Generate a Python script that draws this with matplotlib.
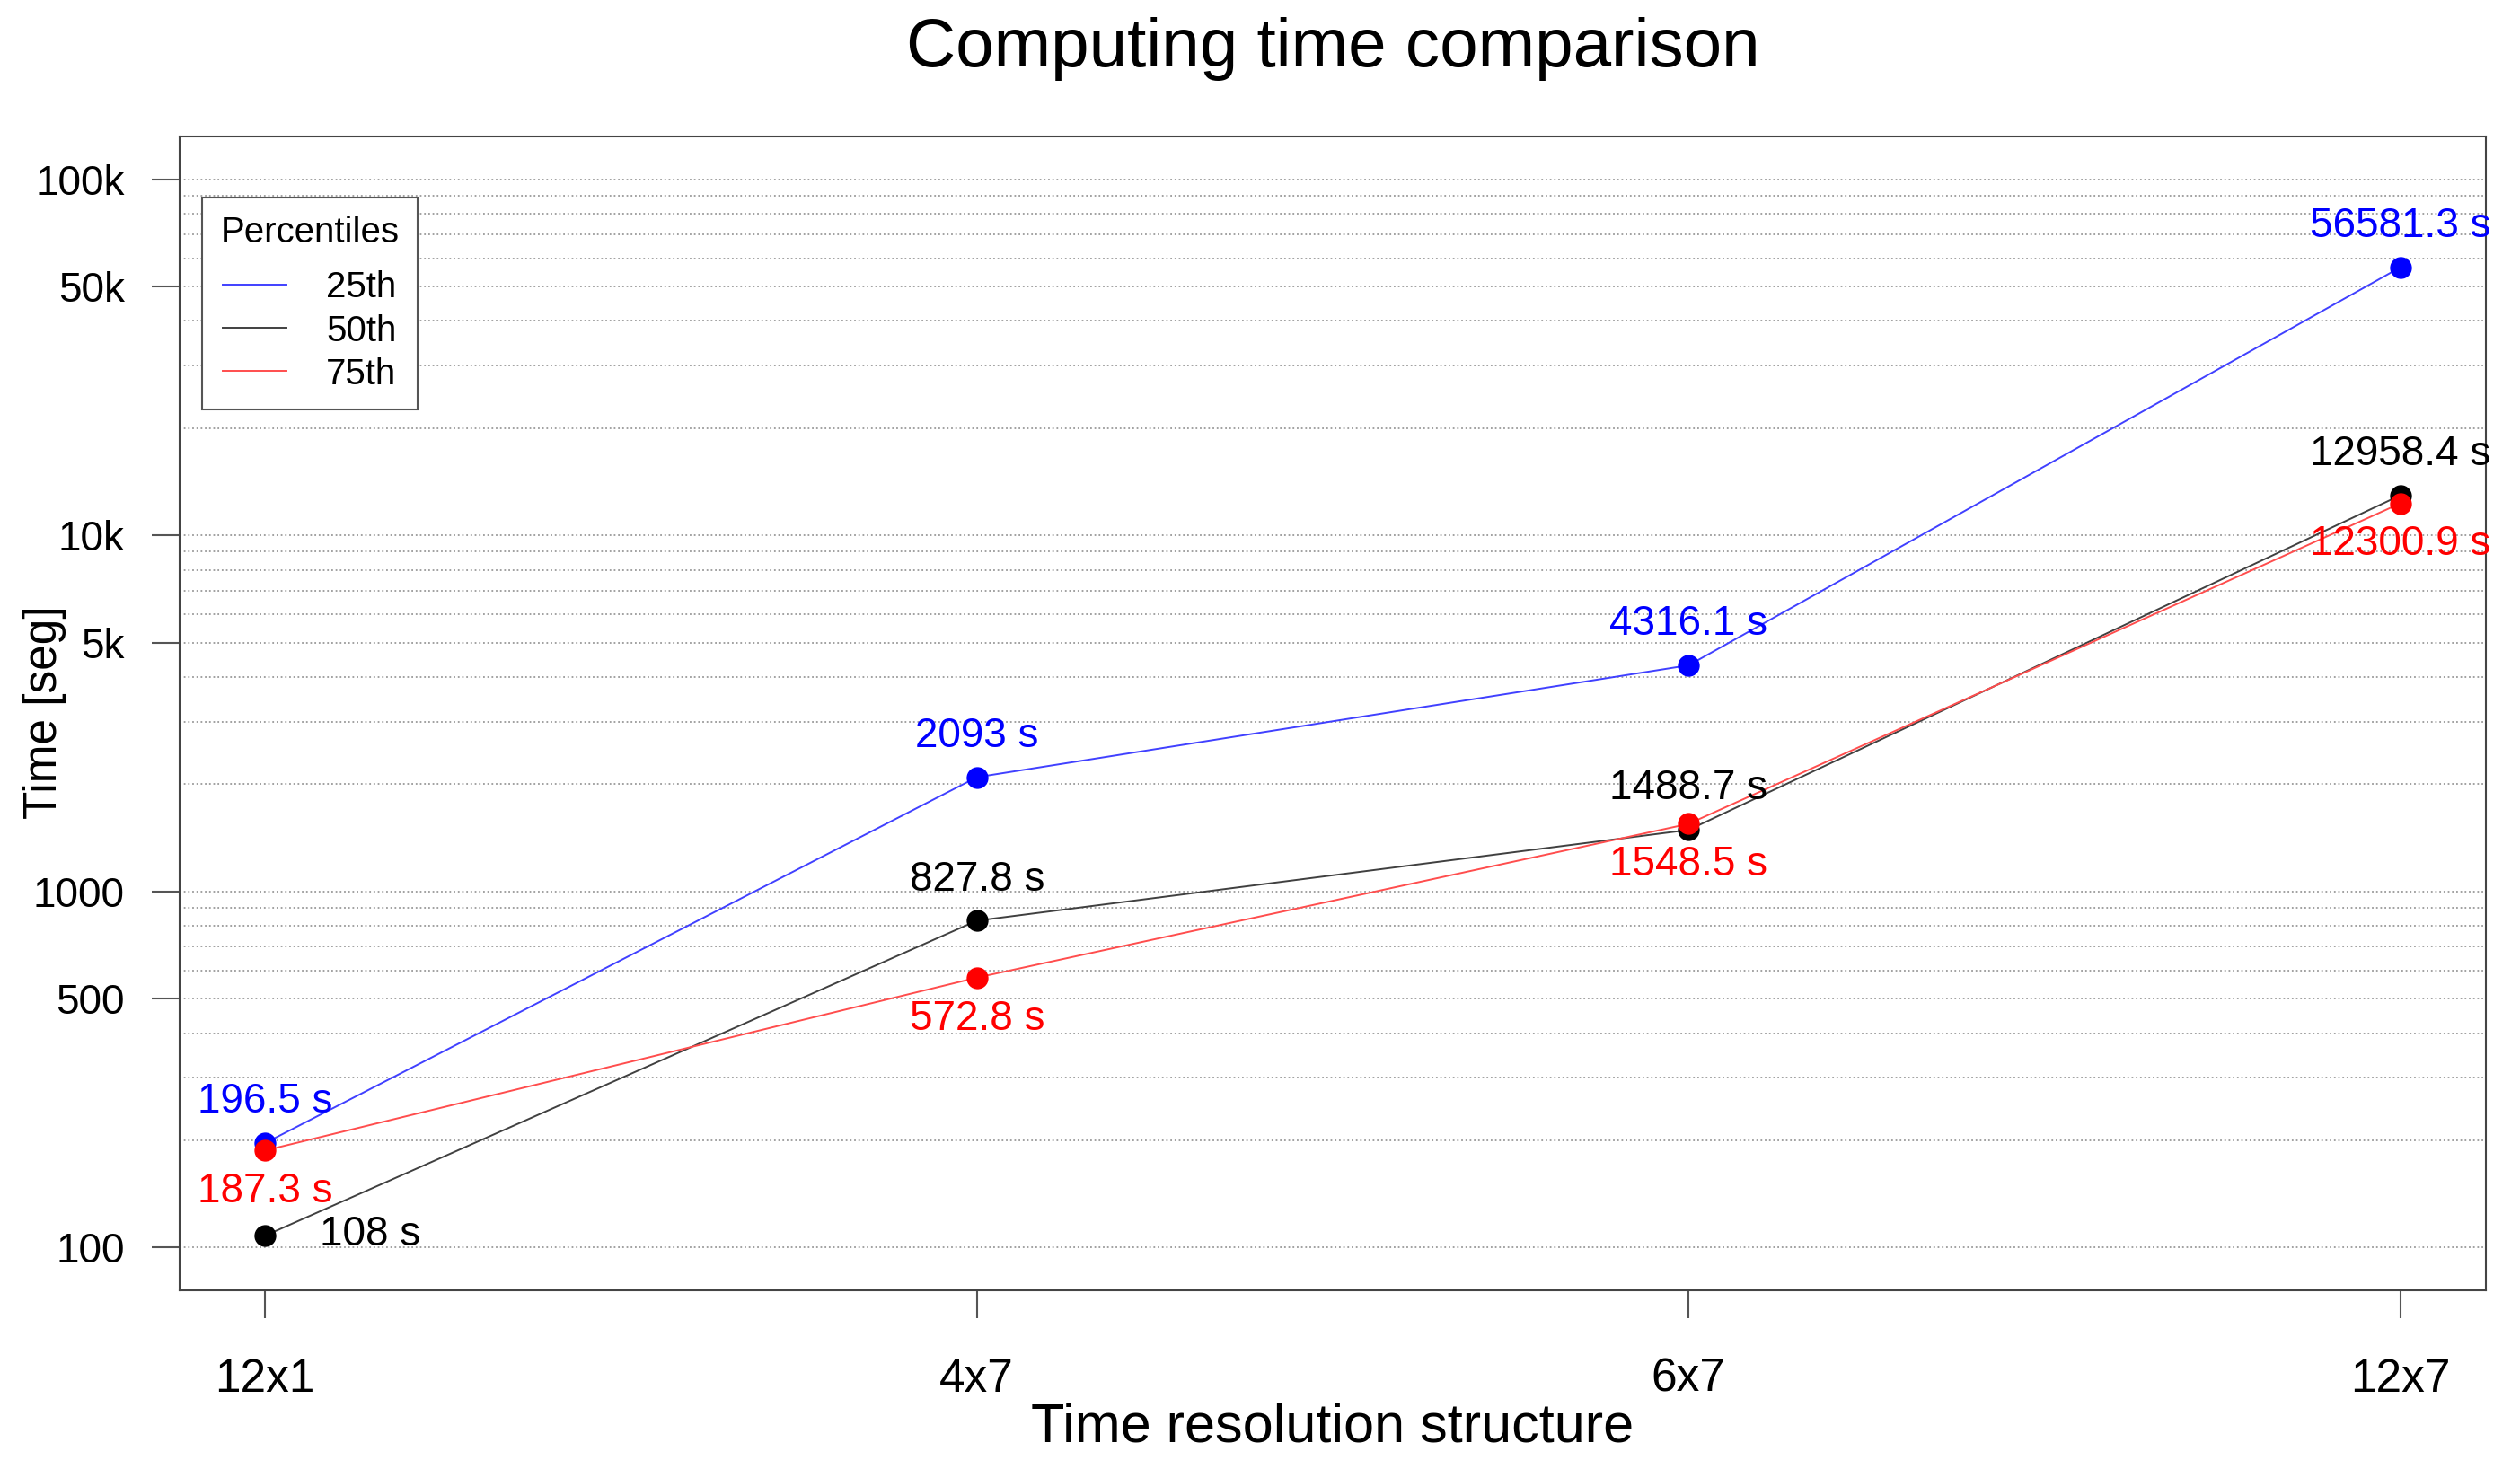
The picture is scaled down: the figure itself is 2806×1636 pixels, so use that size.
import matplotlib
matplotlib.use("Agg")
import matplotlib.pyplot as plt
from matplotlib.ticker import FixedLocator, NullFormatter

plt.rcParams['font.family'] = ['Liberation Sans', 'DejaVu Sans']

# data
structures = ["12x1", "4x7", "6x7", "12x7"]
p25 = [196.5, 2093.0, 4316.1, 56581.3]
p50 = [108.0, 827.8, 1488.7, 12958.4]
p75 = [187.3, 572.8, 1548.5, 12300.9]
series_names = ["25th", "50th", "75th"]
ytick_vals = [100, 500, 1000, 5000, 10000, 50000, 100000]
ytick_labels = ["100", "500", "1000", "5k", "10k", "50k", "100k"]

W, H = 2806, 1636
fig = plt.figure(figsize=(W / 100, H / 100), dpi=100)
# axes box in pixels: left 200, right 2768, top 152, bottom 1437
ax = fig.add_axes([200 / W, 1 - 1437 / H, (2768 - 200) / W, (1437 - 152) / H])

x = list(range(1, len(structures) + 1))
ax.set_yscale('log')
ax.set_xlim(0.88, 4.12)
ax.set_ylim(10 ** 1.88, 10 ** 5.12)

# dotted grid at every minor log step
grid_vals = [m * 10 ** e for e in range(2, 5) for m in range(1, 10)] + [100000]
for g in grid_vals:
    ax.axhline(g, color='#9a9a9a', lw=1.3, ls=(0, (1, 1.6)), zorder=0)

line_cols = {"25th": (0.25, 0.25, 1.0), "50th": (0.25, 0.25, 0.25), "75th": (1.0, 0.3, 0.3)}
dot_cols = {"25th": "blue", "50th": "black", "75th": "red"}
values = {"25th": p25, "50th": p50, "75th": p75}

handles = []
for name in series_names:
    ln, = ax.plot(x, values[name], color=line_cols[name], lw=1.4, zorder=2, label=name)
    ax.plot(x, values[name], 'o', color=dot_cols[name], ms=16.5, zorder=3)
    handles.append(ln)

# value labels
def fmt(v):
    return ("%g" % v) + " s"

for i, v in enumerate(p25):
    ax.annotate(fmt(v), (x[i], v), xytext=(0, 33), textcoords='offset points',
                ha='center', va='center', color='blue', fontsize=33, zorder=4)
for i, v in enumerate(p75):
    ax.annotate(fmt(v), (x[i], v), xytext=(0, -33), textcoords='offset points',
                ha='center', va='center', color='red', fontsize=33, zorder=4)
for i, v in enumerate(p50):
    off = (84, 1) if i == 0 else (0, 33)
    ax.annotate(fmt(v), (x[i], v), xytext=off, textcoords='offset points',
                ha='center', va='center', color='black', fontsize=33, zorder=4)

ax.yaxis.set_major_locator(FixedLocator(ytick_vals))
ax.yaxis.set_minor_formatter(NullFormatter())
ax.yaxis.set_minor_locator(FixedLocator([]))
ax.set_yticklabels(ytick_labels)
ax.set_xticks(x)
ax.set_xticklabels(structures)
ax.tick_params(axis='y', length=22, width=1.5, color='#555555', pad=22, labelsize=33)
ax.tick_params(axis='x', length=22, width=1.5, color='#555555', pad=32, labelsize=37)
for s in ax.spines.values():
    s.set_color('#444444')
    s.set_linewidth(1.5)

fig.text(1484 / W, 1 - 54 / H, "Computing time comparison", ha='center', va='center', fontsize=55)
fig.text(1484 / W, 1 - 1590 / H, "Time resolution structure", ha='center', va='center', fontsize=44)
fig.text(50 / W, 1 - 793 / H, "Time [seg]", ha='center', va='center', rotation=90, fontsize=37)

leg = ax.legend(handles=handles, title="Percentiles", loc='upper left',
                bbox_to_anchor=(0.002, 0.963), fontsize=29, title_fontsize=29,
                fancybox=False, framealpha=1, edgecolor='#555555',
                handlelength=1.75, handletextpad=1.1, labelspacing=0.25,
                borderpad=0.5, alignment='center')
leg.get_frame().set_linewidth(1.5)
# extra gap between the title and the entries
leg._legend_box.sep = 17

fig.savefig("out.png", dpi=100)
